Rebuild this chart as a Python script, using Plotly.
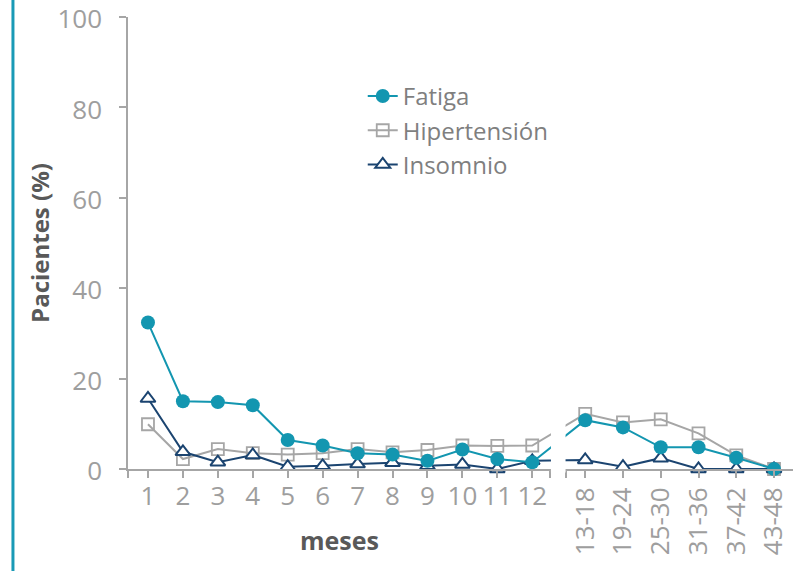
import numpy as np
import plotly.graph_objects as go

# ---- data ----
meses = ["1", "2", "3", "4", "5", "6", "7", "8", "9", "10", "11", "12"]
rangos = ["13-18", "19-24", "25-30", "31-36", "37-42", "43-48"]

fatiga_meses = [32.4, 15.0, 14.8, 14.1, 6.4, 5.2, 3.5, 3.2, 1.8, 4.3, 2.2, 1.5]
fatiga_rangos = [10.8, 9.2, 4.8, 4.8, 2.5, 0.0]

hipertension_meses = [9.9, 2.2, 4.4, 3.5, 3.2, 3.5, 4.4, 3.7, 4.2, 5.2, 5.1, 5.2]
hipertension_rangos = [12.2, 10.3, 11.0, 7.9, 3.0, 0.0]

insomnio_meses = [15.6, 3.8, 1.5, 3.1, 0.5, 0.7, 1.1, 1.4, 0.7, 1.0, 0.0, 1.8]
insomnio_rangos = [2.0, 0.5, 2.4, 0.0, 0.0, 0.0]

y_ticks = [0, 20, 40, 60, 80, 100]

# ---- broken category axis: months, then a break, then ranges ----
BIN_STEP = 1.081        # spacing of the range categories relative to months
BREAK_OFFSET = 1.516    # distance from the last month to the first range
LEFT_PAD = 0.572
RIGHT_PAD = 0.543
SEG_END_PAD = 0.515     # end of month segment after last month
SEG_START_PAD = 0.543   # start of range segment before first range

xm = np.arange(len(meses), dtype=float)
xb = xm[-1] + BREAK_OFFSET + np.arange(len(rangos)) * BIN_STEP
x_all = np.concatenate([xm, xb])
x_range = [xm[0] - LEFT_PAD, xb[-1] + RIGHT_PAD]
seg1_end = xm[-1] + SEG_END_PAD
seg2_start = xb[0] - SEG_START_PAD

TEAL = "#1396B0"
GREY = "#A6A6A6"
NAVY = "#1B4470"
TICK_COL = "#9E9E9E"
FONT = "Open Sans"
TICK_SIZE = 26

fig = go.Figure()

fig.add_trace(go.Scatter(
    x=x_all, y=hipertension_meses + hipertension_rangos, name="Hipertensión",
    mode="lines+markers", legendrank=2, cliponaxis=False,
    line=dict(color=GREY, width=2),
    marker=dict(symbol="square-open", size=12, color=GREY, line=dict(width=1.8, color=GREY)),
))
fig.add_trace(go.Scatter(
    x=x_all, y=insomnio_meses + insomnio_rangos, name="Insomnio",
    mode="lines+markers", legendrank=3, cliponaxis=False,
    line=dict(color=NAVY, width=2),
    marker=dict(symbol="triangle-up", size=13, color="white", line=dict(width=2, color=NAVY)),
))
fig.add_trace(go.Scatter(
    x=x_all, y=fatiga_meses + fatiga_rangos, name="Fatiga",
    mode="lines+markers", legendrank=1, cliponaxis=False,
    line=dict(color=TEAL, width=2),
    marker=dict(symbol="circle", size=14, color=TEAL),
))
# invisible carrier trace for the rotated range labels axis
fig.add_trace(go.Scatter(
    x=xb, y=[0] * len(xb), xaxis="x2", mode="markers", showlegend=False,
    hoverinfo="skip", marker=dict(opacity=0),
))

main_tickvals = [x_range[0]] + list(xm) + [seg1_end, seg2_start] + list(xb)
main_ticktext = [""] + meses + ["", ""] + [""] * len(rangos)

fig.update_layout(
    width=808, height=571,
    margin=dict(l=128, r=15, t=17, b=102, autoexpand=False),
    paper_bgcolor="white", plot_bgcolor="white",
    font=dict(family=FONT, color=TICK_COL),
    showlegend=True,
    legend=dict(
        x=0.353, y=0.874, xanchor="left", yanchor="top",
        font=dict(family=FONT, size=24, color="#7F7F7F"),
        bgcolor="rgba(0,0,0,0)", traceorder="normal",
    ),
    xaxis=dict(
        range=x_range, tickmode="array", tickvals=main_tickvals, ticktext=main_ticktext,
        showgrid=False, zeroline=False, showline=True, linecolor=GREY, linewidth=1.5,
        ticks="outside", ticklen=7, tickcolor=GREY, tickwidth=1.5, automargin=False,
        tickfont=dict(family=FONT, size=TICK_SIZE, color=TICK_COL), tickangle=0,
        ticklabelstandoff=-4, ticklabeloverflow="allow",
    ),
    xaxis2=dict(
        overlaying="x", side="bottom", range=x_range, tickmode="array",
        tickvals=list(xb), ticktext=rangos, tickangle=-90, automargin=False,
        showgrid=False, zeroline=False, showline=False, ticks="outside", ticklen=7,
        tickcolor="rgba(0,0,0,0)", ticklabeloverflow="allow",
        tickfont=dict(family=FONT, size=TICK_SIZE, color=TICK_COL),
    ),
    yaxis=dict(
        range=[0, 100], tickmode="array", tickvals=y_ticks, automargin=False,
        showgrid=False, zeroline=False, showline=True, linecolor=GREY, linewidth=1.5,
        ticks="outside", ticklen=7, tickcolor=GREY, tickwidth=1.5,
        tickfont=dict(family=FONT, size=TICK_SIZE, color=TICK_COL),
        ticklabelstandoff=12, ticklabelshift=2, ticklabeloverflow="allow",
        title=dict(text="<b>Pacientes (%)</b>", standoff=1,
                   font=dict(family=FONT, size=24, color="#595959")),
    ),
    annotations=[dict(
        text="<b>meses</b>", xref="x", yref="paper",
        x=float(np.mean([x_range[0], seg1_end])), y=-0.157, yanchor="middle",
        showarrow=False, font=dict(family=FONT, size=25, color="#595959"),
    )],
    shapes=[
        # break in the axis and the lines
        dict(type="rect", xref="x", yref="paper", x0=seg1_end + 0.02, x1=seg2_start - 0.02,
             y0=-0.008, y1=1.0, fillcolor="white", line=dict(width=0), layer="above"),
        # teal frame line on the left
        dict(type="line", xref="paper", yref="paper", x0=-0.173, x1=-0.173,
             y0=-0.3, y1=1.1, line=dict(color="#1A9AB6", width=3)),
    ],
)

# remove the default page margin so the figure fills the window exactly
fig.write_html("out.html", config={"displayModeBar": False},
               post_script="document.body.style.margin='0px';")
